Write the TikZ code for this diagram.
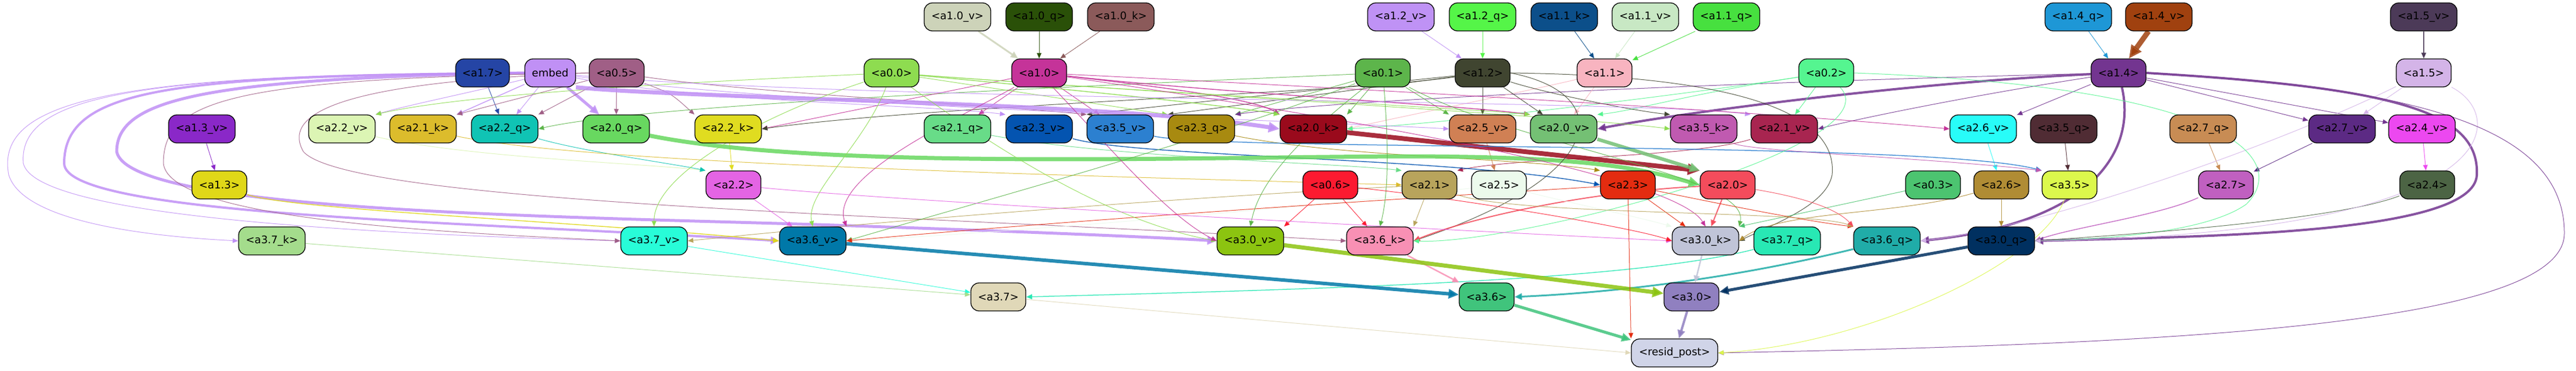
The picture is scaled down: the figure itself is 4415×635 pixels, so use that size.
\documentclass[tikz,border=0pt]{standalone}
\usepackage{fontspec}
\setmainfont{DejaVu Sans}
\usetikzlibrary{arrows.meta,backgrounds}
\definecolor{c10v}{HTML}{CDD3B9}\definecolor{c10q}{HTML}{2A5008}\definecolor{c10k}{HTML}{8B5A5A}
\definecolor{c12v}{HTML}{BF92F5}\definecolor{c12q}{HTML}{55F548}\definecolor{c11k}{HTML}{0C4F8A}
\definecolor{c11v}{HTML}{C8E8C4}\definecolor{c11q}{HTML}{47E03F}\definecolor{c14q}{HTML}{1E97D6}
\definecolor{c14v}{HTML}{A0410F}\definecolor{c15v}{HTML}{4C3A58}\definecolor{c17}{HTML}{2545A5}
\definecolor{cemb}{HTML}{C090F5}\definecolor{c05}{HTML}{A05F86}\definecolor{c00}{HTML}{8EDC50}
\definecolor{c10}{HTML}{C53399}\definecolor{c01}{HTML}{5DB54B}\definecolor{c12}{HTML}{404530}
\definecolor{c11}{HTML}{F8B4C0}\definecolor{c02}{HTML}{55F590}\definecolor{c14}{HTML}{733590}
\definecolor{c15}{HTML}{D4B4E8}\definecolor{c13v}{HTML}{8A28C8}\definecolor{c22v}{HTML}{DCF5B4}
\definecolor{c21k}{HTML}{DCBC2C}\definecolor{c22q}{HTML}{10C4B4}\definecolor{c20q}{HTML}{68D860}
\definecolor{c22k}{HTML}{E0DC20}\definecolor{c21q}{HTML}{68DC88}\definecolor{c23v}{HTML}{0454B0}
\definecolor{c35v}{HTML}{2C80D0}\definecolor{c23q}{HTML}{A88A10}\definecolor{c20k}{HTML}{9A0A1C}
\definecolor{c25v}{HTML}{D08054}\definecolor{c20v}{HTML}{74C074}\definecolor{c35k}{HTML}{C05AB0}
\definecolor{c21v}{HTML}{A82550}\definecolor{c26v}{HTML}{28FCF8}\definecolor{c35q}{HTML}{502C34}
\definecolor{c27q}{HTML}{C88C54}\definecolor{c27v}{HTML}{5C2A84}\definecolor{c24v}{HTML}{EC48F0}
\definecolor{c13}{HTML}{E0D818}\definecolor{c22}{HTML}{E464E4}\definecolor{c06}{HTML}{FC1A30}
\definecolor{c21}{HTML}{B8A45C}\definecolor{c25}{HTML}{ECFAEC}\definecolor{c23}{HTML}{E42C10}
\definecolor{c20}{HTML}{F44C5C}\definecolor{c03}{HTML}{4CC470}\definecolor{c26}{HTML}{B08C34}
\definecolor{c35}{HTML}{DCF84C}\definecolor{c27}{HTML}{C060C0}\definecolor{c24}{HTML}{4C6444}
\definecolor{c37k}{HTML}{A4DC8C}\definecolor{c37v}{HTML}{28FCD8}\definecolor{c36v}{HTML}{0078A8}
\definecolor{c30v}{HTML}{8CC410}\definecolor{c36k}{HTML}{F890B4}\definecolor{c30k}{HTML}{C0C4D8}
\definecolor{c37q}{HTML}{28E8B4}\definecolor{c36q}{HTML}{20ACA8}\definecolor{c30q}{HTML}{003060}
\definecolor{c37}{HTML}{E0D8B8}\definecolor{c36}{HTML}{40C47C}\definecolor{c30}{HTML}{9080C0}
\definecolor{cres}{HTML}{D0D4E8}
\tikzset{
 bx/.style={draw=black, line width=1.3pt, rounded corners=14pt, minimum height=48pt, inner sep=0pt, font=\fontsize{18}{21}\selectfont},
 sn/.style={bx, minimum width=94pt},
 ln/.style={bx, minimum width=114pt},
 ar/.style 2 args={draw=#1, line width=#2pt, draw opacity=0.85, -{Triangle[length=8pt 1.6,width=6.5pt 1.5]}},
}
\begin{document}
\begin{tikzpicture}[x=1pt,y=-1pt]
\useasboundingbox (0,0) rectangle (4415,635);
% row 1
\node[ln,fill=c10v] (a10v) at (1641,29) {<a1.0\_v>};
\node[ln,fill=c10q] (a10q) at (1781,29) {<a1.0\_q>};
\node[ln,fill=c10k] (a10k) at (1921,29) {<a1.0\_k>};
\node[ln,fill=c12v] (a12v) at (2401,29) {<a1.2\_v>};
\node[ln,fill=c12q] (a12q) at (2541,29) {<a1.2\_q>};
\node[ln,fill=c11k] (a11k) at (2681,29) {<a1.1\_k>};
\node[ln,fill=c11v] (a11v) at (2820,29) {<a1.1\_v>};
\node[ln,fill=c11q] (a11q) at (2959,29) {<a1.1\_q>};
\node[ln,fill=c14q] (a14q) at (3562,29) {<a1.4\_q>};
\node[ln,fill=c14v] (a14v) at (3700,29) {<a1.4\_v>};
\node[ln,fill=c15v] (a15v) at (4154,29) {<a1.5\_v>};
% row 2
\node[sn,fill=c17,minimum width=92pt] (a17) at (827,125) {<a1.7>};
\node[sn,fill=cemb,minimum width=87pt] (embed) at (943,125) {embed};
\node[sn,fill=c05] (a05) at (1057,125) {<a0.5>};
\node[sn,fill=c00] (a00) at (1528,125) {<a0.0>};
\node[sn,fill=c10] (a10) at (1781,125) {<a1.0>};
\node[sn,fill=c01] (a01) at (2370,125) {<a0.1>};
\node[sn,fill=c12] (a12) at (2541,125) {<a1.2>};
\node[sn,fill=c11] (a11) at (2750,125) {<a1.1>};
\node[sn,fill=c02] (a02) at (3130,125) {<a0.2>};
\node[sn,fill=c14] (a14) at (3631,125) {<a1.4>};
\node[sn,fill=c15] (a15) at (4154,125) {<a1.5>};
% row 3
\node[ln,fill=c13v] (a13v) at (346,221) {<a1.3\_v>};
\node[ln,fill=c22v] (a22v) at (586,221) {<a2.2\_v>};
\node[ln,fill=c21k] (a21k) at (725,221) {<a2.1\_k>};
\node[ln,fill=c22q] (a22q) at (865,221) {<a2.2\_q>};
\node[ln,fill=c20q] (a20q) at (1056,221) {<a2.0\_q>};
\node[ln,fill=c22k] (a22k) at (1248,221) {<a2.2\_k>};
\node[ln,fill=c21q] (a21q) at (1641,221) {<a2.1\_q>};
\node[ln,fill=c23v] (a23v) at (1781,221) {<a2.3\_v>};
\node[ln,fill=c35v] (a35v) at (1920,221) {<a3.5\_v>};
\node[ln,fill=c23q] (a23q) at (2059,221) {<a2.3\_q>};
\node[ln,fill=c20k] (a20k) at (2251,221) {<a2.0\_k>};
\node[ln,fill=c25v] (a25v) at (2541,221) {<a2.5\_v>};
\node[ln,fill=c20v] (a20v) at (2680,221) {<a2.0\_v>};
\node[ln,fill=c35k] (a35k) at (2920,221) {<a3.5\_k>};
\node[ln,fill=c21v] (a21v) at (3058,221) {<a2.1\_v>};
\node[ln,fill=c26v] (a26v) at (3399,221) {<a2.6\_v>};
\node[ln,fill=c35q] (a35q) at (3537,221) {<a3.5\_q>};
\node[ln,fill=c27q] (a27q) at (3776,221) {<a2.7\_q>};
\node[ln,fill=c27v] (a27v) at (4014,221) {<a2.7\_v>};
\node[ln,fill=c24v] (a24v) at (4151,221) {<a2.4\_v>};
% row 4
\node[sn,fill=c13] (a13) at (376,317) {<a1.3>};
\node[sn,fill=c22] (a22) at (1257,317) {<a2.2>};
\node[sn,fill=c06] (a06) at (2280,317) {<a0.6>};
\node[sn,fill=c21] (a21) at (2450,317) {<a2.1>};
\node[sn,fill=c25] (a25) at (2569,317) {<a2.5>};
\node[sn,fill=c23] (a23) at (2790,317) {<a2.3>};
\node[sn,fill=c20] (a20) at (2961,317) {<a2.0>};
\node[sn,fill=c03] (a03) at (3313,317) {<a0.3>};
\node[sn,fill=c26] (a26) at (3430,317) {<a2.6>};
\node[sn,fill=c35] (a35) at (3547,317) {<a3.5>};
\node[sn,fill=c27] (a27) at (3815,317) {<a2.7>};
\node[sn,fill=c24] (a24) at (4160,317) {<a2.4>};
% row 5
\node[ln,fill=c37k] (a37k) at (466,413) {<a3.7\_k>};
\node[ln,fill=c37v] (a37v) at (1121,413) {<a3.7\_v>};
\node[ln,fill=c36v] (a36v) at (1393,413) {<a3.6\_v>};
\node[ln,fill=c30v] (a30v) at (2143,413) {<a3.0\_v>};
\node[ln,fill=c36k] (a36k) at (2365,413) {<a3.6\_k>};
\node[ln,fill=c30k] (a30k) at (2923,413) {<a3.0\_k>};
\node[ln,fill=c37q] (a37q) at (3063,413) {<a3.7\_q>};
\node[ln,fill=c36q] (a36q) at (3234,413) {<a3.6\_q>};
\node[ln,fill=c30q] (a30q) at (3430,413) {<a3.0\_q>};
% row 6-7
\node[sn,fill=c37] (a37) at (1711,509) {<a3.7>};
\node[sn,fill=c36] (a36) at (2548,509) {<a3.6>};
\node[sn,fill=c30] (a30) at (2899,509) {<a3.0>};
\node[bx,fill=cres,minimum width=148pt] (resid) at (2870,605) {<resid\_post>};

\begin{scope}[on background layer]
\fill[white] (0,0) rectangle (4415,635);
% top to row 2
\draw[ar={c10v}{3}] (a10v) -- (a10);
\draw[ar={c10q}{1}] (a10q) -- (a10);
\draw[ar={c10k}{1}] (a10k) -- (a10);
\draw[ar={c12v}{1}] (a12v) -- (a12);
\draw[ar={c12q}{1}] (a12q) -- (a12);
\draw[ar={c11k}{1}] (a11k) -- (a11);
\draw[ar={c11v}{1}] (a11v) -- (a11);
\draw[ar={c11q}{1}] (a11q) -- (a11);
\draw[ar={c14q}{1}] (a14q) -- (a14);
\draw[ar={c14v}{9}] (a14v) -- (a14);
\draw[ar={c15v}{1.2}] (a15v) -- (a15);
% row 2 to row 3
\draw[ar={c17}{1}] (a17) -- (a22q);
\draw[ar={cemb}{1}] (embed) .. controls (800,160) and (700,180) .. (a22v.north east);
\draw[ar={cemb}{1.5}] (embed) -- (a21k.north east);
\draw[ar={cemb}{1}] (embed) -- (a22q);
\draw[ar={cemb}{5}] (embed) -- (a20q);
\draw[ar={c05}{1}] (a05) -- (a21k.north east);
\draw[ar={c05}{1}] (a05) -- (a22q.north east);
\draw[ar={c05}{1}] (a05) -- (a20q);
\draw[ar={c05}{1}] (a05) .. controls (1150,160) .. (a22k.north west);
\draw[ar={c00}{1}] (a00) .. controls (1200,140) and (800,160) .. (a22v.north east);
\draw[ar={c01}{1}] (a01) .. controls (1800,150) and (1100,180) .. (a22q.east);
\draw[ar={c10}{1}] (a10) -- (a22k.east);
\draw[ar={c12}{1}] (a12) .. controls (2300,160) and (1600,180) .. (a22k.east);
\draw[ar={c10}{1}] (a10) -- (a21q);
\draw[ar={cemb}{1}] (embed) .. controls (1200,175) and (1600,180) .. (a23v.north west);
\draw[ar={c10}{1}] (a10) -- (a35v);
\draw[ar={c05}{1}] (a05) .. controls (1300,160) and (1700,180) .. (a35v.north west);
\draw[ar={c12}{1}] (a12) .. controls (2300,150) and (2000,180) .. (a35v.north west);
\draw[ar={c00}{1}] (a00) -- (a23q.north west);
\draw[ar={c12}{1}] (a12) -- (a23q.north west);
\draw[ar={c01}{1}] (a01) -- (a23q.north east);
\draw[ar={c14}{1}] (a14) .. controls (3000,140) and (2300,170) .. (a23q.north east);
\draw[ar={cemb}{7}] (embed.south east) .. controls (1200,170) and (1900,175) .. (a20k.west);
\draw[ar={c10}{1.5}] (a10) .. controls (2000,150) and (2150,170) .. (a20k.north west);
\draw[ar={c00}{1.5}] (a00) .. controls (1800,150) and (2100,180) .. (a20k.north west);
\draw[ar={c01}{1}] (a01) -- (a20k.north east);
\draw[ar={c11}{1}] (a11) .. controls (2600,160) and (2400,200) .. (a20k.east);
\draw[ar={c02}{1}] (a02) .. controls (2900,160) and (2500,210) .. (a20k.east);
\draw[ar={c01}{1}] (a01) -- (a25v.north west);
\draw[ar={c12}{1}] (a12) -- (a25v);
\draw[ar={cemb}{1}] (embed) .. controls (1400,185) and (2200,205) .. (a25v.west);
\draw[ar={c10}{1.5}] (a10) .. controls (2100,160) and (2500,180) .. (a20v.north west);
\draw[ar={c00}{1}] (a00) .. controls (2000,160) and (2500,185) .. (a20v.north west);
\draw[ar={c12}{1}] (a12) -- (a20v);
\draw[ar={c11}{1}] (a11) -- (a20v);
\draw[ar={c02}{1}] (a02) .. controls (2900,160) and (2800,190) .. (a20v.north east);
\draw[ar={c14}{4}] (a14) .. controls (3300,140) and (2900,190) .. (a20v.east);
\draw[ar={c12}{1}] (a12) .. controls (2650,160) and (2800,190) .. (a35k.north west);
\draw[ar={c00}{1}] (a00) .. controls (2000,160) and (2700,200) .. (a35k.west);
\draw[ar={cemb}{1}] (embed) .. controls (1500,175) and (2800,170) .. (a21v.north west);
\draw[ar={c02}{1}] (a02) -- (a21v);
\draw[ar={c14}{1}] (a14) .. controls (3400,160) and (3200,200) .. (a21v.east);
\draw[ar={c10}{1}] (a10) .. controls (2300,150) and (3000,190) .. (a26v.west);
\draw[ar={c14}{1}] (a14) -- (a26v);
\draw[ar={c14}{1}] (a14) -- (a27v);
\draw[ar={c15}{1}] (a15) -- (a27v);
\draw[ar={c14}{1}] (a14) -- (a24v);
% row 3 to row 4
\draw[ar={c13v}{1}] (a13v) -- (a13);
\draw[ar={c22k}{1}] (a22k) -- (a22);
\draw[ar={c22v}{1}] (a22v) .. controls (800,270) and (1100,280) .. (a22.north west);
\draw[ar={c22q}{1}] (a22q) .. controls (1000,260) and (1150,280) .. (a22.north west);
\draw[ar={c21q}{1}] (a21q) .. controls (1900,270) and (2300,280) .. (a21.north west);
\draw[ar={c21k}{1}] (a21k) .. controls (1000,280) and (1800,300) .. (a21.west);
\draw[ar={c21v}{1}] (a21v) .. controls (2900,270) and (2600,270) .. (a21.north east);
\draw[ar={c25v}{1}] (a25v) -- (a25);
\draw[ar={c23v}{1.5}] (a23v) .. controls (1950,270) and (2500,270) .. (a23.west);
\draw[ar={c23q}{1}] (a23q) .. controls (2300,270) and (2600,270) .. (a23.north west);
\draw[ar={c20k}{8}] (a20k) -- (a20.north west);
\draw[ar={c20q}{7}] (a20q) .. controls (1400,290) and (2000,270) .. (2400,268) .. controls (2700,268) and (2800,285) .. (a20.west);
\draw[ar={c20v}{6}] (a20v) -- (a20.north west);
\draw[ar={c26v}{1}] (a26v) -- (a26);
\draw[ar={c35q}{1}] (a35q) -- (a35);
\draw[ar={c35v}{1.5}] (a35v) .. controls (2100,260) and (3300,240) .. (a35.north west);
\draw[ar={c35k}{1}] (a35k) .. controls (3000,260) and (3300,270) .. (a35.north west);
\draw[ar={c27q}{1}] (a27q) -- (a27);
\draw[ar={c27v}{1}] (a27v) -- (a27);
\draw[ar={c24v}{1}] (a24v) -- (a24);
% to row 5
\draw[ar={cemb}{1}] (embed.west) .. controls (200,125) and (-10,170) .. (15,300) .. controls (40,380) and (250,405) .. (a37k.west);
\draw[ar={cemb}{1}] (embed.west) .. controls (250,128) and (30,160) .. (40,280) .. controls (60,370) and (600,400) .. (a37v.west);
\draw[ar={cemb}{4}] (embed.west) .. controls (300,130) and (110,150) .. (110,280) .. controls (110,370) and (800,380) .. (a36v.west);
\draw[ar={cemb}{5}] (embed.west) .. controls (350,135) and (200,170) .. (200,260) .. controls (220,360) and (900,370) .. (1400,385) .. controls (1700,395) and (1950,405) .. (a30v.west);
\draw[ar={c05}{1}] (a05.west) .. controls (400,135) and (280,170) .. (280,280) .. controls (290,380) and (800,400) .. (a37v.west);
\draw[ar={c05}{1}] (a05.west) .. controls (600,140) and (480,190) .. (520,260) .. controls (600,350) and (1600,370) .. (a36k.west);
\draw[ar={c00}{1}] (a00) .. controls (1300,200) and (1120,300) .. (a37v.north);
\draw[ar={c21}{1}] (a21) .. controls (2000,340) and (1500,380) .. (a37v.east);
\draw[ar={c13}{1.5}] (a13) .. controls (500,360) and (1000,380) .. (a36v.west);
\draw[ar={c22}{1}] (a22) -- (a36v);
\draw[ar={c00}{1}] (a00) .. controls (1480,250) and (1380,330) .. (a36v.north);
\draw[ar={c10}{1}] (a10) .. controls (1650,200) and (1420,300) .. (a36v.north east);
\draw[ar={c01}{1}] (a01) .. controls (2100,230) and (1700,340) .. (a36v.east);
\draw[ar={c25}{1}] (a25) .. controls (2200,360) and (1700,400) .. (a36v.east);
\draw[ar={c23}{1}] (a23) .. controls (2400,340) and (1800,380) .. (a36v.east);
\draw[ar={c00}{1}] (a00) .. controls (1700,250) and (1900,380) .. (a30v.west);
\draw[ar={c10}{1}] (a10) .. controls (1900,250) and (2000,370) .. (a30v.west);
\draw[ar={c01}{1}] (a01) .. controls (2250,220) and (2160,300) .. (a30v.north);
\draw[ar={c06}{1}] (a06) -- (a30v.north east);
\draw[ar={c06}{1}] (a06) -- (a36k);
\draw[ar={c01}{1}] (a01) .. controls (2380,250) and (2380,330) .. (a36k.north);
\draw[ar={c21}{1}] (a21) -- (a36k.north east);
\draw[ar={c12}{1}] (a12.east) .. controls (2770,160) and (2760,300) .. (a36k.east);
\draw[ar={c20}{2}] (a20) .. controls (2700,330) and (2500,380) .. (a36k.east);
\draw[ar={c02}{1}] (a02) .. controls (3250,250) and (2600,420) .. (a36k.east);
\draw[ar={c22}{1}] (a22) .. controls (1600,350) and (2600,400) .. (a30k.west);
\draw[ar={c23}{1}] (a23) -- (a30k);
\draw[ar={c10}{1}] (a10) .. controls (2300,200) and (2870,300) .. (a30k.north);
\draw[ar={c20}{2}] (a20) -- (a30k);
\draw[ar={c06}{1}] (a06) .. controls (2500,340) and (2800,390) .. (a30k.west);
\draw[ar={c25}{1}] (a25) .. controls (2700,350) and (2800,370) .. (a30k.north west);
\draw[ar={c01}{1}] (a01) .. controls (2600,250) and (3000,300) .. (a30k.north east);
\draw[ar={c12}{1}] (a12.east) .. controls (3000,130) and (3150,200) .. (3140,300) .. controls (3130,350) and (3050,380) .. (a30k.east);
\draw[ar={c03}{1}] (a03) -- (a30k.north east);
\draw[ar={c26}{1}] (a26) .. controls (3250,370) and (3050,360) .. (a30k.east);
\draw[ar={c23}{1}] (a23) .. controls (2950,350) and (3100,380) .. (a36q.north west);
\draw[ar={c21}{1}] (a21) .. controls (2600,370) and (3100,360) .. (a36q.north west);
\draw[ar={c20}{1}] (a20) .. controls (3100,340) and (3150,360) .. (a36q.north west);
\draw[ar={c14}{4}] (a14) .. controls (3660,250) and (3600,380) .. (a36q.east);
\draw[ar={c15}{1}] (a15) .. controls (3900,250) and (3500,390) .. (a36q.east);
\draw[ar={c26}{1}] (a26) -- (a30q);
\draw[ar={c27}{1.5}] (a27) .. controls (3700,370) and (3550,390) .. (a30q.east);
\draw[ar={c14}{4}] (a14.east) .. controls (4100,150) and (4250,190) .. (4245,300) .. controls (4240,400) and (3800,405) .. (a30q.east);
\draw[ar={c02}{1}] (a02.east) .. controls (3850,150) and (3920,280) .. (3850,350) .. controls (3780,400) and (3600,410) .. (a30q.east);
\draw[ar={c24}{1}] (a24) .. controls (4000,380) and (3600,405) .. (a30q.east);
\draw[ar={c15}{1}] (a15) .. controls (4300,200) and (4300,400) .. (a30q.east);
% row 6
\draw[ar={c37v}{1}] (a37v) -- (a37);
\draw[ar={c37k}{1}] (a37k) -- (a37);
\draw[ar={c37q}{1.5}] (a37q) .. controls (2800,480) and (2300,495) .. (a37.east);
\draw[ar={c36v}{6}] (a36v) -- (a36);
\draw[ar={c36k}{2.5}] (a36k) -- (a36);
\draw[ar={c36q}{3}] (a36q) .. controls (3000,470) and (2800,500) .. (a36.east);
\draw[ar={c30v}{7}] (a30v) -- (a30);
\draw[ar={c30k}{2.5}] (a30k) -- (a30);
\draw[ar={c30q}{5}] (a30q) -- (a30);
% row 7
\draw[ar={c36}{5}] (a36) -- (resid);
\draw[ar={c30}{4}] (a30) -- (resid);
\draw[ar={c23}{1}] (a23) -- (resid.north west);
\draw[ar={c37}{1}] (a37) -- (resid.west);
\draw[ar={c14}{1}] (a14.east) .. controls (4150,150) and (4395,220) .. (4395,400) .. controls (4395,560) and (3700,590) .. (resid.east);
\draw[ar={c35}{1}] (a35) .. controls (3500,450) and (3200,590) .. (resid.east);
\end{scope}
\end{tikzpicture}
\end{document}
